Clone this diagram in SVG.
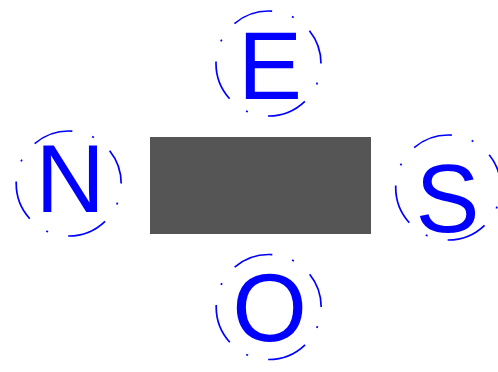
<svg xmlns="http://www.w3.org/2000/svg" width="498" height="372" viewBox="0 0 498 372">
<style>
.ring{fill:none;stroke:#0000ff;stroke-width:1.7;stroke-dasharray:40.7 20.6 2 20.6;stroke-dashoffset:41.7}
.lbl{font-family:"Liberation Sans",Arial,sans-serif;font-size:96px;fill:#0000ff;text-anchor:middle}
</style>
<rect id="box" x="150" y="137" width="221" height="97" fill="#555555"/>
<g id="nodeE"><circle class="ring" cx="268.5" cy="63.5" r="52.5"/><text class="lbl" x="270" y="99">E</text></g>
<g id="nodeN"><circle class="ring" cx="68.7" cy="183.5" r="52.5"/><text class="lbl" x="70.2" y="211.7">N</text></g>
<g id="nodeS"><circle class="ring" cx="448.2" cy="187.5" r="52.5"/><text class="lbl" x="447.5" y="231.5">S</text></g>
<g id="nodeO"><circle class="ring" cx="268.7" cy="307" r="52.5"/><text class="lbl" x="269.5" y="340.5">O</text></g>
<g id="connectors"></g>
</svg>
